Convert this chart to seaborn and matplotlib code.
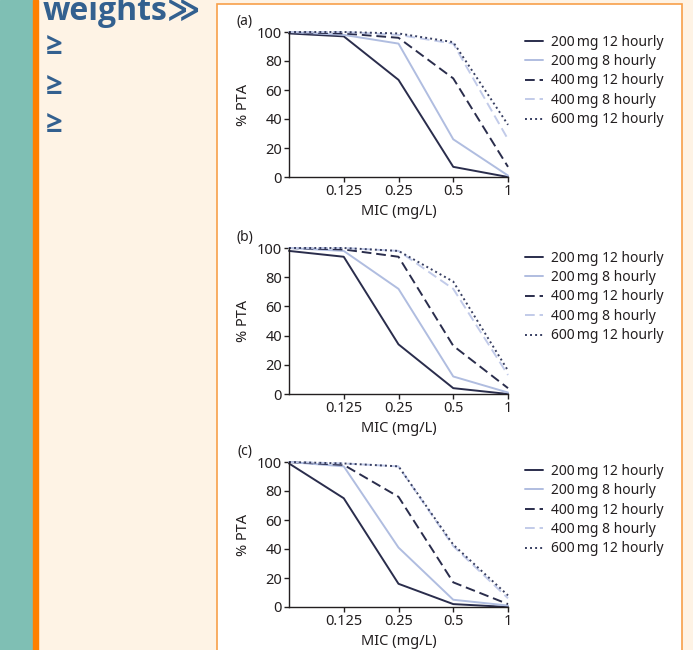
import numpy as np
import pandas as pd
import seaborn as sns
from matplotlib import pyplot as plt
from matplotlib.patches import Rectangle

# MIC values (mg/L) and regimens
mic = [0.0625, 0.125, 0.25, 0.5, 1]
regimens = ['200\u2009mg 12 hourly', '200\u2009mg 8 hourly', '400\u2009mg 12 hourly',
            '400\u2009mg 8 hourly', '600\u2009mg 12 hourly']
mic_ticks = [0.125, 0.25, 0.5, 1]
mic_labels = ['0.125', '0.25', '0.5', '1']
panel_names = ['(a)', '(b)', '(c)']

# % PTA, one list per regimen and panel
pta_a = [[99, 97, 67, 7, 0],
         [100, 98, 92, 26, 1],
         [100, 99, 96, 68, 7],
         [100, 100, 98, 92, 26],
         [100, 100, 99, 93, 36]]
pta_b = [[98, 94, 34, 4, 0],
         [100, 98, 72, 12, 1],
         [100, 99, 94, 33, 4],
         [100, 100, 98, 72, 13],
         [100, 100, 98, 77, 16]]
pta_c = [[99, 75, 16, 2, 0],
         [100, 97, 41, 5, 1],
         [100, 98, 76, 17, 2],
         [100, 99, 97, 42, 6],
         [100, 99, 97, 43, 8]]

dark = '#2a2d4c'
light = '#b0bde0'
palette = dict(zip(regimens, [dark, light, dark, '#c2cbe9', '#383f62']))
dashes = dict(zip(regimens, ['', '', (5, 2.5), (5, 2.5), (1, 1.6)]))
txt = '#231f20'

sns.set_style('white')
plt.rcParams['font.family'] = ['Noto Sans', 'DejaVu Sans']

W, H = 693, 650
fig = plt.figure(figsize=(W / 100, H / 100), dpi=100, facecolor='#fef3e5')

# page decoration around the figure
fig.patches.append(Rectangle((0, 0), 33 / W, 1, transform=fig.transFigure,
                             color='#7fbfb4', zorder=-5))
fig.patches.append(Rectangle((33 / W, 0), 5 / W, 1, transform=fig.transFigure,
                             color='#ff8000', zorder=-5))
fig.patches.append(Rectangle((217 / W, -0.1), 465 / W, 1.1 - 4 / H,
                             transform=fig.transFigure, facecolor='white',
                             edgecolor='#f7a04a', lw=1.2, zorder=-5))
fig.text(43 / W, 1 - 20 / H, 'weights\u226b', fontsize=23, fontweight='bold',
         color='#33608f', family=['Open Sans', 'DejaVu Sans'], va='baseline')
for yy in [47, 87, 125]:
    fig.text(46 / W, 1 - yy / H, '\u2265', fontsize=21, fontweight='bold',
             color='#33608f', family=['Open Sans', 'DejaVu Sans'], va='center')

panels = [(pta_a, 177, 32, 81), (pta_b, 394, 248, 297), (pta_c, 607, 462, 510)]
for (pta, y0, y100, leg_y), name in zip(panels, panel_names):
    rows = []
    for reg, vals in zip(regimens, pta):
        for m, v in zip(mic, vals):
            rows.append({'mic': m, 'pta': v, 'regimen': reg})
    df = pd.DataFrame(rows)

    ax = fig.add_axes([289 / W, 1 - y0 / H, 219 / W, (y0 - y100) / H])
    ax.set_facecolor('none')
    sns.lineplot(data=df, x='mic', y='pta', hue='regimen', style='regimen',
                 palette=palette, dashes=dashes, hue_order=regimens,
                 style_order=regimens, lw=1.4, ax=ax)
    for ln in ax.lines:
        ln.set_clip_on(False)
    ax.set_xscale('log', base=2)
    ax.set_xlim(0.0625, 1)
    ax.set_ylim(0, 100)
    ax.set_xticks(mic_ticks)
    ax.set_xticklabels(mic_labels)
    ax.minorticks_off()
    ax.set_yticks(range(0, 101, 20))
    ax.tick_params(labelsize=10.5, length=3.5, width=1, colors=txt,
                   pad=1.5, left=True, bottom=True)
    ax.spines[['right', 'top']].set_visible(False)
    for s in ['left', 'bottom']:
        ax.spines[s].set_color(txt)
        ax.spines[s].set_linewidth(1)
    h = y0 - y100
    ax.set_xlabel('MIC (mg/L)', fontsize=10.5, color=txt)
    ax.set_ylabel('% PTA', fontsize=10.5, color=txt)
    ax.xaxis.set_label_coords(0.5, -27 / h)
    ax.yaxis.set_label_coords(-38 / 219, 0.5)
    ax.text(-44 / 219, 1 + 11 / h, name, fontsize=10, color=txt,
            ha='center', va='center', transform=ax.transAxes)

    sns.move_legend(ax, 'center left', bbox_to_anchor=(525 / W, 1 - leg_y / H),
                    bbox_transform=fig.transFigure, frameon=False, title=None,
                    fontsize=10, borderpad=0, borderaxespad=0, labelspacing=0.32,
                    handlelength=1.3, handletextpad=0.58)
    for t in ax.get_legend().get_texts():
        t.set_color(txt)

fig.savefig('out.png', dpi=100, facecolor=fig.get_facecolor())
